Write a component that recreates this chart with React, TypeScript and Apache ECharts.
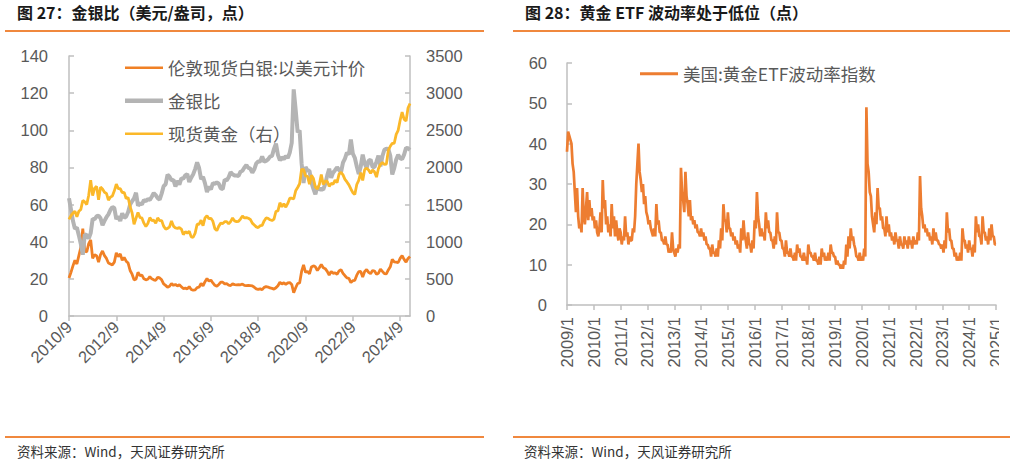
import React, { useEffect, useRef } from 'react';
import * as echarts from 'echarts';

// ---------- Data ----------
// Left chart: monthly, 2010/9 .. 2025/2
const silverStart = { year: 2010, month: 9 };
const silverPrice: number[] = [
  20.5, 23.5, 27, 30,
  28, 32.5, 37, 47, 35, 34.5, 39, 41, 31, 33, 32.5, 29,
  33, 35, 32.5, 31, 28.5, 28, 27.5, 29, 34, 32, 33.5, 30,
  31.5, 29.5, 28.5, 24.5, 22.5, 19.5, 19.8, 23.5, 21.8, 22, 20, 19.5,
  19.8, 21.2, 20, 19.5, 19.2, 20.8, 20.5, 19.5, 17.3, 16.5, 15.5, 16,
  17.5, 16.5, 17, 16.2, 16.8, 15.8, 14.8, 15, 14.6, 15.8, 14.3, 13.9,
  14.1, 15.3, 15.5, 17.5, 16.2, 18.5, 20.2, 18.8, 19.3, 17.8, 16.5, 16,
  17, 18.2, 18.2, 17.3, 17.4, 16.6, 16.4, 17.3, 16.9, 16.8, 16.9, 16.8,
  17.2, 16.5, 16.3, 16.5, 16.4, 16.2, 15.5, 14.6, 14.3, 14.6, 14.2, 15.4,
  15.8, 15.6, 15.1, 14.9, 14.5, 15.2, 16.3, 18.2, 17.2, 17.9, 17, 17.8,
  18, 17, 12.5, 15.2, 17.5, 17.8, 24, 27.5, 23.5, 24, 22.7, 26.4,
  27, 26.5, 24.5, 26, 27.8, 26, 25.5, 24, 22, 24, 23, 23.3,
  22.4, 24.3, 25, 23, 21.7, 20.5, 20.3, 18, 19, 19.2, 22, 23.9,
  24, 21, 24, 25, 23.5, 22.8, 24.5, 24.2, 22.5, 23, 25.3, 24,
  22.8, 22.7, 24.8, 26.5, 30.5, 29.2, 29, 28.8, 31, 32.5, 30.5, 29,
  31, 32,
];
const goldSilverRatio: number[] = [
  63.4, 57.4, 51.3, 47,
  47.7, 43.4, 38.8, 33, 43.9, 43.5, 41.7, 44.6, 52.3, 52.1, 53.7, 54,
  52.6, 48.9, 51.2, 53.2, 54.7, 57.1, 58.7, 58.1, 52.2, 53.6, 51.2, 55.3,
  52.9, 53.6, 56, 60, 61.8, 63.3, 66.4, 59.4, 60.8, 60, 62.5, 61.8,
  62.9, 62.5, 64.2, 66.2, 65.1, 63.5, 62.7, 65.9, 69.9, 70.9, 76.1, 75,
  73.1, 73.3, 69.7, 72.8, 70.8, 74.1, 74, 75.7, 76.4, 72.2, 74.5, 76.3,
  79.1, 82.7, 79.7, 73.7, 75, 71.4, 66.8, 69.7, 68.1, 71.6, 71.2, 71.9,
  71.2, 68.7, 68.4, 73.4, 73, 74.7, 77.4, 76.3, 75.7, 75.6, 75.4, 77.7,
  78.2, 80, 81.3, 79.7, 79.3, 77.2, 79, 82.2, 83.2, 83.2, 85.9, 83.1,
  83.5, 84.3, 85.8, 86.2, 90, 92.8, 86.8, 83.8, 85.5, 84.4, 86.2, 85.1,
  88, 93.2, 122, 110.9, 98.9, 100, 82.3, 71.6, 80.2, 78.3, 78.2, 71.8,
  68.5, 65.5, 69.8, 68.1, 68.5, 68.1, 71.2, 75.6, 79.3, 74.4, 77.2, 78.5,
  80.1, 78.6, 77.4, 82.6, 84.8, 88, 86.9, 95, 87.4, 85.2, 80.5, 76.4,
  80.4, 86.9, 82.1, 79.6, 83.6, 84.2, 80.2, 80.2, 83.1, 86.3, 80.6, 86,
  89.5, 90.1, 89.9, 86.2, 76.2, 79.6, 84.3, 86.8, 85, 84.5, 86.9, 90.5,
  90.3, 89.4,
];
const goldPrice: number[] = [
  1300, 1350, 1385, 1410,
  1335, 1410, 1435, 1555, 1535, 1500, 1625, 1830, 1620, 1720, 1745, 1565,
  1735, 1710, 1665, 1650, 1560, 1600, 1615, 1685, 1775, 1715, 1715, 1660,
  1665, 1580, 1595, 1470, 1390, 1235, 1315, 1395, 1325, 1320, 1250, 1205,
  1245, 1325, 1285, 1290, 1250, 1320, 1285, 1285, 1210, 1170, 1180, 1200,
  1280, 1210, 1185, 1180, 1190, 1170, 1095, 1135, 1115, 1140, 1065, 1060,
  1115, 1235, 1235, 1290, 1215, 1320, 1350, 1310, 1315, 1275, 1175, 1150,
  1210, 1250, 1245, 1270, 1270, 1240, 1270, 1320, 1280, 1270, 1275, 1305,
  1345, 1320, 1325, 1315, 1300, 1250, 1225, 1200, 1190, 1215, 1220, 1280,
  1320, 1315, 1295, 1285, 1305, 1410, 1415, 1525, 1470, 1510, 1465, 1515,
  1585, 1585, 1575, 1685, 1730, 1780, 1975, 1970, 1885, 1880, 1775, 1895,
  1850, 1735, 1710, 1770, 1905, 1770, 1815, 1815, 1745, 1785, 1775, 1830,
  1795, 1910, 1935, 1900, 1840, 1805, 1765, 1710, 1660, 1635, 1770, 1825,
  1930, 1825, 1970, 1990, 1965, 1920, 1965, 1940, 1870, 1985, 2040, 2065,
  2040, 2045, 2230, 2285, 2325, 2325, 2445, 2500, 2635, 2745, 2650, 2625,
  2800, 2860,
];

// Right chart: twice a month (1st, 16th), 2009/1/1 .. 2025/1/1
const gvzStart = { year: 2009, month: 1 };
const goldEtfVol: number[] = [
  38, 43, 42, 41, 40, 35, 33, 28, 23, 29, 22, 19, 20, 18, 29, 22, 20, 24, 28, 21, 26, 22, 24, 21,
  22, 19, 21, 18, 17, 19, 23, 18, 31, 24, 26, 20, 22, 18, 20, 17, 25, 19, 22, 17, 21, 18, 16, 19,
  18, 15, 17, 16, 22, 17, 18, 15, 17, 16, 16, 19, 18, 22, 30, 35, 40, 33, 31, 28, 30, 25, 27, 23,
  22, 20, 21, 19, 18, 17, 19, 17, 25, 20, 21, 18, 18, 16, 16, 15, 17, 15, 15, 13, 14, 13, 18, 14,
  13, 12, 14, 13, 15, 14, 34, 28, 26, 23, 33, 27, 25, 22, 26, 21, 22, 20, 21, 19, 20, 18, 18, 17,
  19, 17, 18, 16, 17, 15, 15, 14, 14, 12, 15, 13, 13, 12, 14, 12, 16, 14, 19, 16, 25, 21, 21, 18,
  23, 19, 19, 17, 18, 16, 17, 15, 16, 14, 15, 13, 19, 16, 21, 17, 16, 14, 18, 15, 15, 13, 16, 14,
  21, 19, 28, 22, 20, 17, 19, 17, 18, 16, 23, 19, 21, 18, 18, 16, 16, 14, 17, 15, 23, 18, 18, 16,
  16, 14, 14, 12, 16, 13, 13, 12, 14, 12, 12, 11, 13, 11, 15, 13, 14, 12, 12, 11, 13, 11, 12, 10,
  15, 13, 13, 12, 12, 11, 13, 11, 11, 10, 12, 10, 14, 12, 13, 11, 12, 11, 13, 11, 15, 13, 13, 12,
  12, 10, 11, 10, 10, 9, 10, 9, 11, 10, 15, 12, 17, 14, 19, 16, 17, 15, 14, 12, 12, 11, 13, 11,
  12, 11, 14, 12, 49, 35, 33, 28, 27, 22, 20, 18, 23, 20, 29, 24, 24, 21, 22, 19, 19, 17, 22, 18,
  20, 17, 18, 16, 17, 15, 18, 16, 16, 14, 17, 15, 15, 14, 17, 15, 16, 14, 17, 15, 16, 14, 17, 15,
  16, 15, 18, 16, 32, 24, 22, 19, 20, 18, 19, 17, 18, 16, 17, 15, 19, 16, 18, 16, 16, 15, 15, 14,
  15, 13, 16, 14, 23, 18, 19, 16, 16, 14, 14, 12, 13, 11, 12, 11, 13, 11, 19, 16, 16, 14, 15, 13,
  16, 14, 14, 12, 15, 13, 22, 18, 20, 17, 17, 15, 22, 18, 18, 16, 17, 15, 19, 16, 20, 17, 17, 15,
  15,
];

const leftYTicks = { min: 0, max: 140, interval: 20 };
const rightYTicks = { min: 0, max: 3500, interval: 500 };
const gvzYTicks = { min: 0, max: 60, interval: 10 };

const seriesNames = {
  silver: '伦敦现货白银:以美元计价',
  ratio: '金银比',
  gold: '现货黄金（右）',
  gvz: '美国:黄金ETF波动率指数',
};

const titles = {
  left: '图 27：金银比（美元/盎司，点）',
  right: '图 28：黄金 ETF 波动率处于低位（点）',
  source: '资料来源：Wind，天风证券研究所',
};

function monthLabels(start: { year: number; month: number }, n: number): string[] {
  const out: string[] = [];
  let y = start.year;
  let m = start.month;
  for (let i = 0; i < n; i++) {
    out.push(`${y}/${m}`);
    m += 1;
    if (m > 12) {
      m = 1;
      y += 1;
    }
  }
  return out;
}

function halfMonthLabels(start: { year: number; month: number }, n: number): string[] {
  const out: string[] = [];
  let y = start.year;
  let m = start.month;
  for (let i = 0; i < n; i++) {
    out.push(`${y}/${m}/${i % 2 === 0 ? 1 : 16}`);
    if (i % 2 === 1) {
      m += 1;
      if (m > 12) {
        m = 1;
        y += 1;
      }
    }
  }
  return out;
}

const leftCategories = monthLabels(silverStart, silverPrice.length);
const rightCategories = halfMonthLabels(gvzStart, goldEtfVol.length);

const AXIS_COLOR = '#BFBFBF';
const LABEL_COLOR = '#595959';
const NUM_FONT = '"Liberation Sans", Arial, sans-serif';
const CJK_FONT = '"Noto Sans CJK SC", sans-serif';

const COLORS = {
  silver: '#F08025',
  ratio: '#B4B4B4',
  gold: '#FBB829',
  gvz: '#ED7D31',
};

export default function App() {
  const ref = useRef<HTMLDivElement>(null);

  useEffect(() => {
    if (!ref.current) return;
    const chart = echarts.init(ref.current, undefined, { renderer: 'svg' });

    const axisLine = { show: true, lineStyle: { color: AXIS_COLOR, width: 1.5 } };
    const axisLabelBase = { color: LABEL_COLOR, fontSize: 16.5, fontFamily: NUM_FONT };
    const tickStyle = { color: AXIS_COLOR, width: 1.5 };

    const option: any = {
      animation: false,
      backgroundColor: '#ffffff',
      textStyle: { fontFamily: NUM_FONT },
      grid: [
        { left: 69, top: 56, width: 341, height: 260 },
        { left: 567, top: 63, width: 429, height: 242 },
      ],
      xAxis: [
        {
          type: 'category',
          gridIndex: 0,
          data: leftCategories,
          boundaryGap: false,
          axisLine,
          axisTick: { show: true, interval: 23, length: 5, lineStyle: tickStyle },
          axisLabel: { ...axisLabelBase, interval: 23, rotate: 45, margin: 8 },
          splitLine: { show: false },
        },
        {
          type: 'category',
          gridIndex: 1,
          data: rightCategories,
          boundaryGap: false,
          axisLine,
          axisTick: { show: true, interval: 23, length: 5, lineStyle: tickStyle },
          axisLabel: {
            ...axisLabelBase,
            interval: 23,
            rotate: 90,
            margin: 12,
            formatter: (v: string) => v.split('/').slice(0, 2).join('/'),
          },
          splitLine: { show: false },
        },
      ],
      yAxis: [
        {
          type: 'value',
          gridIndex: 0,
          position: 'left',
          ...leftYTicks,
          axisLine,
          axisTick: { show: true, inside: true, length: 5, lineStyle: tickStyle },
          axisLabel: { ...axisLabelBase, margin: 21, formatter: (v: number) => String(v) },
          splitLine: { show: false },
        },
        {
          type: 'value',
          gridIndex: 0,
          position: 'right',
          ...rightYTicks,
          axisLine,
          axisTick: { show: true, inside: true, length: 5, lineStyle: tickStyle },
          axisLabel: { ...axisLabelBase, margin: 16, formatter: (v: number) => String(v) },
          splitLine: { show: false },
        },
        {
          type: 'value',
          gridIndex: 1,
          position: 'left',
          ...gvzYTicks,
          axisLine,
          axisTick: { show: true, inside: true, length: 5, lineStyle: tickStyle },
          axisLabel: { ...axisLabelBase, margin: 20, formatter: (v: number) => String(v) },
          splitLine: { show: false },
        },
      ],
      legend: [
        {
          orient: 'vertical',
          left: 120,
          top: 54,
          itemWidth: 38,
          itemHeight: 14,
          itemGap: 15.5,
          symbolKeepAspect: true,
          textStyle: { fontSize: 17.5, color: LABEL_COLOR, fontFamily: CJK_FONT },
          data: [
            { name: seriesNames.silver, icon: 'path://M0,0H38V2.6H0Z' },
            { name: seriesNames.ratio, icon: 'path://M0,0H38V4.5H0Z' },
            { name: seriesNames.gold, icon: 'path://M0,0H38V2.6H0Z' },
          ],
        },
        {
          orient: 'vertical',
          left: 635,
          top: 60,
          itemWidth: 38,
          itemHeight: 14,
          symbolKeepAspect: true,
          textStyle: { fontSize: 17.5, color: LABEL_COLOR, fontFamily: CJK_FONT },
          data: [{ name: seriesNames.gvz, icon: 'path://M0,0H38V3H0Z' }],
        },
      ],
      series: [
        {
          name: seriesNames.silver,
          type: 'line',
          xAxisIndex: 0,
          yAxisIndex: 0,
          data: silverPrice,
          symbol: 'none',
          showSymbol: false,
          lineStyle: { color: COLORS.silver, width: 2.8 },
          itemStyle: { color: COLORS.silver },
        },
        {
          name: seriesNames.ratio,
          type: 'line',
          xAxisIndex: 0,
          yAxisIndex: 0,
          data: goldSilverRatio,
          symbol: 'none',
          showSymbol: false,
          lineStyle: { color: COLORS.ratio, width: 4 },
          itemStyle: { color: COLORS.ratio },
        },
        {
          name: seriesNames.gold,
          type: 'line',
          xAxisIndex: 0,
          yAxisIndex: 1,
          data: goldPrice,
          symbol: 'none',
          showSymbol: false,
          lineStyle: { color: COLORS.gold, width: 2.8 },
          itemStyle: { color: COLORS.gold },
        },
        {
          name: seriesNames.gvz,
          type: 'line',
          xAxisIndex: 1,
          yAxisIndex: 2,
          data: goldEtfVol,
          symbol: 'none',
          showSymbol: false,
          lineStyle: { color: COLORS.gvz, width: 2.7 },
          itemStyle: { color: COLORS.gvz },
        },
      ],
      graphic: [
        {
          type: 'text',
          left: 17,
          top: 4,
          style: { text: titles.left, font: `bold 16px ${CJK_FONT}`, fill: '#1a1a1a' },
        },
        {
          type: 'text',
          left: 525,
          top: 4,
          style: { text: titles.right, font: `bold 16px ${CJK_FONT}`, fill: '#1a1a1a' },
        },
        { type: 'line', shape: { x1: 5, y1: 31, x2: 484, y2: 31 }, style: { stroke: '#F0883E', lineWidth: 2 } },
        { type: 'line', shape: { x1: 513, y1: 31, x2: 1010, y2: 31 }, style: { stroke: '#F0883E', lineWidth: 2 } },
        { type: 'line', shape: { x1: 5, y1: 437, x2: 484, y2: 437 }, style: { stroke: '#F0883E', lineWidth: 2 } },
        { type: 'line', shape: { x1: 513, y1: 437, x2: 1010, y2: 437 }, style: { stroke: '#F0883E', lineWidth: 2 } },
        {
          type: 'text',
          left: 17,
          top: 444,
          style: { text: titles.source, font: `13.5px ${CJK_FONT}`, fill: '#333333' },
        },
        {
          type: 'text',
          left: 524,
          top: 444,
          style: { text: titles.source, font: `13.5px ${CJK_FONT}`, fill: '#333333' },
        },
        {
          type: 'rect',
          z: 100,
          shape: { x: 999, y: 310, width: 17, height: 80 },
          style: { fill: '#ffffff' },
        },
      ],
    };

    chart.setOption(option);
    return () => {
      chart.dispose();
    };
  }, []);

  return (
    <div
      ref={ref}
      style={{ position: 'fixed', left: 0, top: 0, width: 1016, height: 466, background: '#fff' }}
    />
  );
}
